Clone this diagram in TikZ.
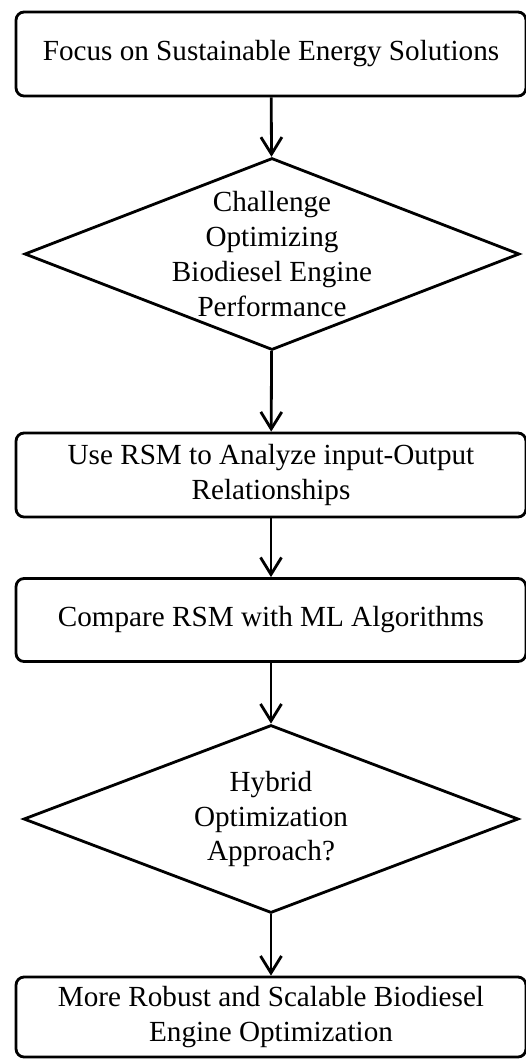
\documentclass[tikz,border=0pt]{standalone}
\usepackage{fontspec}
\setmainfont{Liberation Serif}
\usetikzlibrary{arrows.meta,shapes.geometric,positioning}

\begin{document}
\begin{tikzpicture}[x=0.02cm,y=-0.02cm,>={Straight Barb[length=0.34cm,width=0.42cm]},
  every node/.style={font=\fontsize{16.6}{19.9}\selectfont},
  stepbox/.style={draw,line width=1.6pt,rounded corners=0.16cm,minimum width=10.2cm,minimum height=1.68cm,inner sep=0pt,align=center},
  query/.style={draw,diamond,aspect=2.6,line width=1.6pt,inner sep=0pt,align=center,minimum width=9.9cm}]
  \useasboundingbox (0,0) rectangle (526,1059);
  \node[stepbox] (focus) at (271,54) {Focus on Sustainable Energy Solutions};
  \node[query,aspect=2.57,inner sep=-0.3cm,minimum height=3.84cm] (challenge) at (272,254) {Challenge\\Optimizing\\Biodiesel Engine\\Performance};
  \node[stepbox] (rsm) at (271,475) {Use RSM to Analyze input-Output\\Relationships};
  \node[stepbox,minimum height=1.66cm] (compare) at (271,620) {Compare RSM with ML Algorithms};
  \node[query,minimum height=3.76cm] (hybrid) at (271,819) {Hybrid\\Optimization\\Approach?};
  \node[stepbox,minimum height=1.6cm] (robust) at (271,1017) {More Robust and Scalable Biodiesel\\Engine Optimization};
  \draw[->,line width=1.6pt] (focus) -- (challenge);
  \draw[->,line width=1.6pt] (challenge) -- (rsm);
  \draw[->,line width=1.6pt] (rsm) -- (compare);
  \draw[->,line width=1.6pt] (compare) -- (hybrid);
  \draw[->,line width=1.6pt] (hybrid) -- (robust);
\end{tikzpicture}
\end{document}
